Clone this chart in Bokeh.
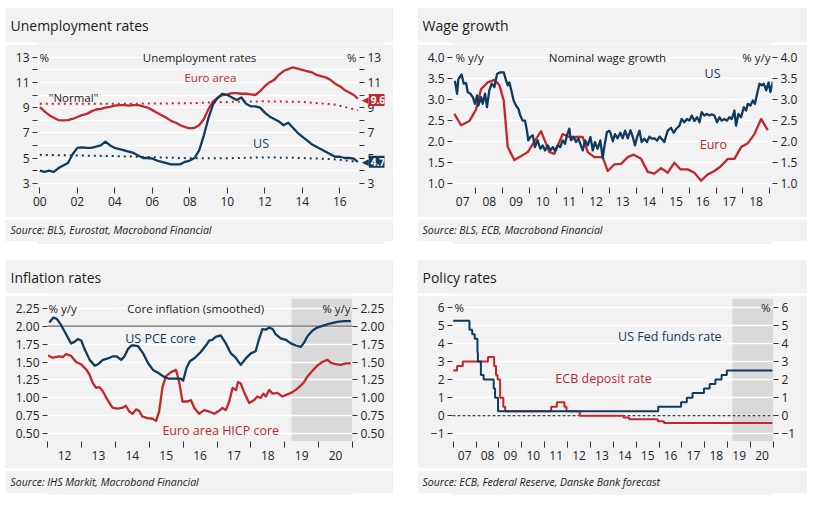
from bokeh.plotting import figure
from bokeh.models import (FixedTicker, LinearAxis, Label, BoxAnnotation, Span, Title,
                          Range1d, Spacer, NumeralTickFormatter)
from bokeh.layouts import column, row
from bokeh.embed import file_html
from bokeh.resources import INLINE

# ------------------------------------------------------------------ data
# Panel 1: unemployment rates (quarterly, % of labour force)
un_dates = [2000 + i / 4 for i in range(68)] + [2016.96]
us_unemp = [
    4.0, 3.9, 4.0, 3.9,
    4.2, 4.4, 4.6, 5.3,
    5.8, 5.85, 5.8, 5.8,
    5.9, 6.0, 6.3, 6.0,
    5.8, 5.7, 5.6, 5.5,
    5.4, 5.2, 5.0, 5.0,
    4.95, 4.8, 4.7, 4.6,
    4.5, 4.5, 4.5, 4.7,
    4.8, 5.0, 5.6, 6.8,
    8.2, 9.3, 9.8, 10.1,
    10.0, 9.8, 9.6, 9.8,
    9.3, 9.1, 9.1, 9.0,
    8.6, 8.3, 8.1, 7.9,
    7.6, 7.8, 7.4, 7.0,
    6.7, 6.4, 6.1, 5.9,
    5.7, 5.5, 5.3, 5.1,
    5.1, 5.0, 5.0, 4.95,
    4.7]
ea_unemp = [
    9.05, 8.7, 8.4, 8.2,
    8.0, 7.98, 8.0, 8.1,
    8.25, 8.4, 8.5, 8.7,
    8.85, 8.9, 9.0, 9.05,
    9.15, 9.2, 9.2, 9.15,
    9.2, 9.2, 9.1, 9.0,
    8.8, 8.6, 8.4, 8.2,
    7.95, 7.8, 7.6, 7.45,
    7.35, 7.4, 7.6, 8.1,
    8.9, 9.5, 9.8, 10.0,
    10.05, 10.15, 10.15, 10.1,
    10.1, 10.05, 10.0, 10.3,
    10.7, 11.0, 11.2, 11.6,
    11.9, 12.05, 12.2, 12.1,
    12.0, 11.9, 11.8, 11.6,
    11.5, 11.4, 11.2, 10.9,
    10.7, 10.4, 10.2, 10.0,
    9.7]
normal_dates = [2000, 2004, 2008, 2010, 2012, 2014, 2015.7, 2016.96]
ea_normal = [9.3, 9.3, 9.35, 9.45, 9.5, 9.45, 9.25, 8.8]
us_normal = [5.25, 5.15, 4.98, 4.98, 5.05, 5.0, 4.9, 4.7]
un_xticks = [2000, 2002, 2004, 2006, 2008, 2010, 2012, 2014, 2016]
un_xlabels = ["00", "02", "04", "06", "08", "10", "12", "14", "16"]
un_yticks = [3, 5, 7, 9, 11, 13]
un_yminor = [4, 6, 8, 10, 12]
ea_last_label = "9.6"
us_last_label = "4.7"

# Panel 2: nominal wage growth (% y/y)
us_wage_dates = [
    2007.21, 2007.29, 2007.34, 2007.46, 2007.54, 2007.63, 2007.69, 2007.79, 2007.88, 2007.96,
    2008.04, 2008.09, 2008.19, 2008.25, 2008.34, 2008.41, 2008.50, 2008.59, 2008.69, 2008.79,
    2008.91, 2009.04, 2009.13, 2009.19, 2009.25, 2009.34, 2009.41, 2009.50, 2009.59, 2009.66,
    2009.75, 2009.84, 2009.91, 2009.96, 2010.04, 2010.13, 2010.21, 2010.31, 2010.41, 2010.50,
    2010.59, 2010.69, 2010.79, 2010.88, 2010.96, 2011.06, 2011.16, 2011.25, 2011.34, 2011.41,
    2011.50, 2011.56, 2011.66, 2011.75, 2011.84, 2011.91, 2012.00, 2012.09, 2012.19, 2012.29,
    2012.38, 2012.46, 2012.56, 2012.66, 2012.75, 2012.81, 2012.91, 2013.00, 2013.04, 2013.13,
    2013.21, 2013.31, 2013.41, 2013.50, 2013.59, 2013.69, 2013.79, 2013.88, 2013.96, 2014.04,
    2014.13, 2014.21, 2014.31, 2014.41, 2014.50, 2014.59, 2014.69, 2014.79, 2014.88, 2015.00,
    2015.06, 2015.13, 2015.19, 2015.31, 2015.41, 2015.50, 2015.63, 2015.71, 2015.81, 2015.91,
    2016.00, 2016.09, 2016.19, 2016.29, 2016.38, 2016.46, 2016.56, 2016.66, 2016.75, 2016.84,
    2016.94, 2017.04, 2017.13, 2017.21, 2017.31, 2017.41, 2017.50, 2017.59, 2017.69, 2017.75,
    2017.84, 2017.94, 2018.04, 2018.13, 2018.19, 2018.29, 2018.38, 2018.46, 2018.54, 2018.63,
    2018.71, 2018.79, 2018.88, 2018.97, 2019.04, 2019.13]
us_wage = [
    3.44, 3.13, 3.48, 3.59, 3.37, 3.38, 3.17, 3.13, 3.05, 2.89,
    3.09, 2.85, 3.05, 2.89, 3.13, 2.81, 3.21, 3.37, 3.29, 3.60,
    3.64, 3.64, 3.44, 3.33, 3.40, 3.17, 2.97, 2.85, 2.77, 2.61,
    2.49, 2.49, 2.25, 2.02, 2.10, 2.14, 1.86, 2.02, 1.82, 1.90,
    1.78, 1.90, 1.78, 1.86, 1.77, 1.90, 1.86, 2.02, 1.94, 2.14,
    2.30, 2.02, 2.10, 1.98, 2.06, 1.94, 1.78, 2.02, 1.90, 2.10,
    1.78, 1.98, 1.82, 2.02, 1.60, 1.86, 2.22, 2.25, 2.20, 2.00,
    2.17, 2.07, 2.20, 2.07, 2.25, 2.07, 2.26, 2.10, 1.90, 2.10,
    2.25, 1.98, 2.06, 1.98, 2.11, 2.06, 2.07, 2.01, 2.11, 2.03,
    1.98, 2.13, 2.25, 2.32, 2.20, 2.29, 2.37, 2.53, 2.45, 2.53,
    2.49, 2.61, 2.48, 2.57, 2.45, 2.69, 2.61, 2.65, 2.61, 2.64,
    2.61, 2.45, 2.57, 2.49, 2.53, 2.49, 2.57, 2.53, 2.73, 2.37,
    2.65, 2.57, 2.81, 2.73, 2.89, 2.85, 2.97, 2.89, 3.13, 3.37,
    3.33, 3.37, 3.21, 3.40, 3.17, 3.42]
ea_wage_dates = [
    2007.19, 2007.44, 2007.75, 2008.00, 2008.19, 2008.44, 2008.69, 2008.88, 2009.04, 2009.19,
    2009.44, 2009.94, 2010.44, 2010.75, 2010.94, 2011.25, 2011.50, 2012.00, 2012.19, 2012.44,
    2012.75, 2012.94, 2013.19, 2013.44, 2013.69, 2013.91, 2014.19, 2014.44, 2014.69, 2014.94,
    2015.19, 2015.44, 2015.66, 2015.94, 2016.19, 2016.44, 2016.69, 2016.94, 2017.19, 2017.44,
    2017.69, 2017.94, 2018.19, 2018.44, 2018.69, 2018.94]
ea_wage = [
    2.65, 2.38, 2.48, 2.75, 3.24, 3.40, 3.46, 3.33, 2.97, 1.86,
    1.55, 1.74, 2.24, 1.74, 1.70, 2.17, 2.10, 2.10, 1.74, 1.62,
    1.62, 1.29, 1.45, 1.46, 1.62, 1.68, 1.58, 1.27, 1.23, 1.36,
    1.25, 1.49, 1.33, 1.33, 1.25, 1.06, 1.21, 1.29, 1.41, 1.58,
    1.58, 1.86, 1.95, 2.17, 2.53, 2.26]
wage_year_ticks = [2008, 2009, 2010, 2011, 2012, 2013, 2014, 2015, 2016, 2017, 2018, 2019]
wage_label_pos = [2007.5, 2008.5, 2009.5, 2010.5, 2011.5, 2012.5, 2013.5, 2014.5, 2015.5,
                  2016.5, 2017.5, 2018.5]
wage_xlabels = ["07", "08", "09", "10", "11", "12", "13", "14", "15", "16", "17", "18"]
wage_yticks = [1.0, 1.5, 2.0, 2.5, 3.0, 3.5, 4.0]

# Panel 3: core inflation, smoothed (% y/y)
us_core_dates = [
    2012.05, 2012.17, 2012.27, 2012.39, 2012.54, 2012.69, 2012.79, 2012.89, 2012.99, 2013.09,
    2013.24, 2013.39, 2013.49, 2013.63, 2013.78, 2013.93, 2014.03, 2014.17, 2014.27, 2014.37,
    2014.47, 2014.57, 2014.67, 2014.82, 2014.97, 2015.11, 2015.26, 2015.41, 2015.56, 2015.76,
    2015.93, 2016.00, 2016.10, 2016.20, 2016.35, 2016.52, 2016.67, 2016.77, 2016.86, 2016.96,
    2017.11, 2017.26, 2017.41, 2017.55, 2017.70, 2017.85, 2018.00, 2018.14, 2018.24, 2018.34,
    2018.44, 2018.54, 2018.64, 2018.73, 2018.88, 2019.03, 2019.18, 2019.33, 2019.47, 2019.57,
    2019.67, 2019.82, 2019.96, 2020.16, 2020.36, 2020.55, 2020.75, 2020.95]
us_core = [
    2.05, 2.12, 2.10, 2.02, 1.89, 1.76, 1.78, 1.82, 1.80, 1.68,
    1.53, 1.45, 1.47, 1.53, 1.55, 1.58, 1.58, 1.53, 1.58, 1.68,
    1.73, 1.73, 1.72, 1.62, 1.48, 1.39, 1.35, 1.30, 1.27, 1.27,
    1.27, 1.24, 1.42, 1.51, 1.56, 1.64, 1.73, 1.80, 1.81, 1.85,
    1.87, 1.76, 1.62, 1.56, 1.46, 1.55, 1.62, 1.65, 1.82, 1.96,
    1.95, 1.98, 1.96, 1.89, 1.83, 1.81, 1.76, 1.73, 1.71, 1.77,
    1.86, 1.94, 1.98, 2.01, 2.04, 2.06, 2.07, 2.07]
ea_core_dates = [
    2012.01, 2012.15, 2012.35, 2012.45, 2012.54, 2012.68, 2012.84, 2012.98, 2013.13, 2013.23,
    2013.33, 2013.43, 2013.52, 2013.62, 2013.77, 2013.92, 2014.06, 2014.20, 2014.31, 2014.41,
    2014.51, 2014.61, 2014.70, 2014.80, 2014.95, 2015.10, 2015.20, 2015.29, 2015.39, 2015.49,
    2015.64, 2015.79, 2015.88, 2015.98, 2016.13, 2016.23, 2016.33, 2016.47, 2016.62, 2016.77,
    2016.92, 2017.06, 2017.16, 2017.26, 2017.36, 2017.46, 2017.56, 2017.62, 2017.70, 2017.80,
    2017.95, 2018.10, 2018.19, 2018.29, 2018.37, 2018.44, 2018.54, 2018.64, 2018.78, 2018.93,
    2019.08, 2019.23, 2019.37, 2019.47, 2019.57, 2019.67, 2019.82, 2019.96, 2020.11, 2020.26,
    2020.36, 2020.50, 2020.65, 2020.80, 2020.95]
ea_core = [
    1.59, 1.56, 1.58, 1.57, 1.61, 1.59, 1.50, 1.47, 1.40, 1.33,
    1.21, 1.14, 1.15, 1.10, 0.97, 0.86, 0.85, 0.86, 0.89, 0.81,
    0.78, 0.84, 0.82, 0.74, 0.72, 0.71, 0.68, 0.81, 1.15, 1.30,
    1.36, 1.39, 1.23, 0.95, 0.95, 0.97, 0.86, 0.78, 0.83, 0.81,
    0.78, 0.82, 0.86, 0.83, 0.95, 1.14, 1.11, 1.22, 1.20, 1.08,
    0.93, 0.97, 1.02, 1.00, 1.06, 1.02, 1.11, 1.06, 1.07, 1.02,
    1.05, 1.08, 1.13, 1.17, 1.22, 1.30, 1.38, 1.45, 1.50, 1.53,
    1.49, 1.47, 1.46, 1.48, 1.48]
infl_year_ticks = [2012, 2013, 2014, 2015, 2016, 2017, 2018, 2019, 2020, 2021]
infl_label_pos = [2012.5, 2013.5, 2014.5, 2015.5, 2016.5, 2017.5, 2018.5, 2019.5, 2020.5]
infl_xlabels = ["12", "13", "14", "15", "16", "17", "18", "19", "20"]
infl_yticks = [0.5, 0.75, 1.0, 1.25, 1.5, 1.75, 2.0, 2.25]
infl_target = 2.0
forecast_start = 2019.2

# Panel 4: policy rates (%)
fed_dates = [2007.0, 2007.71, 2007.83, 2007.94, 2008.06, 2008.08, 2008.21, 2008.33, 2008.77,
             2008.83, 2008.96, 2015.96, 2016.96, 2017.21, 2017.46, 2017.96, 2018.21, 2018.46,
             2018.73, 2018.96, 2020.95]
fed_rate = [5.25, 4.75, 4.5, 4.25, 3.5, 3.0, 2.25, 2.0, 1.5, 1.0, 0.25, 0.5, 0.75, 1.0, 1.25,
            1.5, 1.75, 2.0, 2.25, 2.5, 2.5]
ecb_dates = [2007.0, 2007.17, 2007.42, 2008.52, 2008.79, 2008.87, 2008.94, 2009.05, 2009.19,
             2009.27, 2011.28, 2011.53, 2011.86, 2011.95, 2012.53, 2014.44, 2014.69, 2015.94,
             2016.21, 2020.95]
ecb_rate = [2.5, 2.75, 3.0, 3.25, 2.75, 2.25, 2.0, 1.0, 0.5, 0.25, 0.5, 0.75, 0.5, 0.25, 0.0,
            -0.1, -0.2, -0.3, -0.4, -0.4]
pol_year_ticks = list(range(2007, 2022))
pol_label_pos = [y + 0.5 for y in range(2007, 2021)]
pol_xlabels = ["07", "08", "09", "10", "11", "12", "13", "14", "15", "16", "17", "18", "19", "20"]
pol_yticks = [-1, 0, 1, 2, 3, 4, 5, 6]
pol_ylabels = ["\u22121", "0", "1", "2", "3", "4", "5", "6"]

# ------------------------------------------------------------------ style
FONT = "Open Sans"
RED = "#c1272d"
BLUE = "#0f3b5f"
BG = "#f2f2f2"
TXT = "#1a1a1a"
TICK = "#333333"
SHADE = "#d9d9d9"
LINE_LIGHT = "#a6a6a6"
LINE_MID = "#979797"
LINE_DARK = "#6e6e6e"


def chart_fig(meta, xr, yr):
    X0, Y0, W, H = meta["box"]
    FL, FR, FT, FB = meta["frame"]
    p = figure(width=W, height=H, x_range=Range1d(*xr), y_range=Range1d(*yr),
               output_backend="svg", toolbar_location=None, tools="", title=None,
               min_border_left=FL - X0, min_border_right=X0 + W - FR,
               min_border_top=FT - Y0, min_border_bottom=Y0 + H - FB,
               background_fill_color=BG, border_fill_color=BG, outline_line_color=None)
    p.xgrid.visible = False
    p.ygrid.grid_line_color = "white"
    p.ygrid.grid_line_width = 1.3
    return p


def rule_fig(W, h, color):
    """A full-width horizontal rule of the panel frame."""
    return figure(width=W, height=h, x_axis_type=None, y_axis_type=None, min_border=0,
                  output_backend="svg", toolbar_location=None, tools="", title=None,
                  background_fill_color=color, border_fill_color=color,
                  outline_line_color=None)


def text_fig(meta, h, text, size, style, standoff):
    """A strip holding one left-aligned line of text (panel title or source)."""
    X0, Y0, W, H = meta["box"]
    FL, FR, FT, FB = meta["frame"]
    p = figure(width=W, height=h, x_axis_type=None, y_axis_type=None,
               min_border_left=FL - X0, min_border_right=X0 + W - FR,
               min_border_top=h - 1, min_border_bottom=0,
               output_backend="svg", toolbar_location=None, tools="", title=None,
               background_fill_color=BG, border_fill_color=BG, outline_line_color=None)
    p.add_layout(Title(text=text, align="left", offset=X0 + 5 - FL, vertical_align="bottom",
                       standoff=standoff, text_font=FONT, text_font_size=size,
                       text_font_style=style, text_color=TXT), "above")
    return p


def style_axis(ax, tick_out, standoff, major_vis=True, minor_vis=False):
    ax.axis_line_color = None
    ax.major_tick_in = 0
    ax.major_tick_out = tick_out
    ax.minor_tick_in = 0
    ax.minor_tick_out = tick_out
    ax.major_tick_line_color = TICK if major_vis else None
    ax.minor_tick_line_color = TICK if minor_vis else None
    ax.major_tick_line_width = 1
    ax.minor_tick_line_width = 1
    ax.major_label_text_font = FONT
    ax.major_label_text_font_size = "12px"
    ax.major_label_text_color = "#222222"
    ax.major_label_standoff = standoff


def setup_y(p, ticks, minor, formatter=None, overrides=None, right_shift=0):
    t = FixedTicker(ticks=ticks, minor_ticks=minor)
    p.yaxis[0].ticker = t
    p.ygrid[0].ticker = t
    right = LinearAxis(ticker=t)
    p.add_layout(right, "right")
    for ax in (p.yaxis[0], right):
        style_axis(ax, 5, 3, True, bool(minor))
        if formatter is not None:
            ax.formatter = formatter
        if overrides is not None:
            ax.major_label_overrides = overrides
    if right_shift:
        # right axis drawn a little inside an extended frame (room for value tags)
        right.major_tick_in = right_shift
        right.major_tick_out = 5 - right_shift
        right.minor_tick_in = right_shift
        right.minor_tick_out = 5 - right_shift
    if minor:
        p.ygrid[0].minor_grid_line_color = "white"
        p.ygrid[0].minor_grid_line_width = 1.3
    return right


def setup_x(p, major, labels, minor, major_vis):
    ax = p.xaxis[0]
    ax.ticker = FixedTicker(ticks=major, minor_ticks=minor)
    ax.major_label_overrides = dict(zip(major, labels))
    style_axis(ax, 6, 3, major_vis, not major_vis)


def dlabel(p, x, y, text, color, size="11.5px", align="center", x_offset=0):
    p.add_layout(Label(x=x, y=y, text=text, text_color=color, text_font=FONT,
                       text_font_size=size, text_align=align, text_baseline="middle",
                       x_offset=x_offset))


def shade(p, start):
    box = BoxAnnotation(left=start, fill_color=SHADE, fill_alpha=1, line_color=None,
                        level="underlay")
    p.center = [box] + list(p.center)


def panel(meta, top_row, title, source, chart):
    W = meta["box"][2]
    if top_row:
        parts = [rule_fig(W, 1, LINE_LIGHT),
                 text_fig(meta, 35, title, "14px", "normal", 16),
                 rule_fig(W, 2, LINE_MID),
                 chart,
                 rule_fig(W, 2, LINE_MID),
                 text_fig(meta, 22, source, "10.5px", "italic", 9),
                 rule_fig(W, 2, LINE_DARK)]
    else:
        parts = [rule_fig(W, 1, LINE_LIGHT),
                 text_fig(meta, 34, title, "14px", "normal", 14),
                 rule_fig(W, 2, LINE_MID),
                 chart,
                 rule_fig(W, 2, LINE_MID),
                 text_fig(meta, 23, source, "10.5px", "italic", 9),
                 rule_fig(W, 2, LINE_MID)]
    return column(*parts)


# chart areas (absolute page coordinates of box and frame)
M1 = dict(box=(5, 44, 388, 173), frame=(37, 384, 48, 187))
M2 = dict(box=(417, 44, 390, 173), frame=(452, 772, 48, 187))
M3 = dict(box=(5, 295, 388, 173), frame=(47, 352, 298, 441))
M4 = dict(box=(417, 295, 390, 173), frame=(452, 773, 298, 441))

# ------------------------------------------------------------------ panel 1
un_end = 2016.997
x1 = (1999.877, 2018.384)
p1 = chart_fig(M1, x1, (2.66, 13.69))
setup_y(p1, un_yticks, un_yminor, right_shift=25)
try:
    p1.ygrid[0].cross_bounds = (x1[0], un_end)
except Exception:
    pass
setup_x(p1, un_xticks, un_xlabels, [], True)
p1.line(normal_dates, ea_normal, line_color=RED, line_width=2, line_dash="2 4", line_cap="butt")
p1.line(normal_dates, us_normal, line_color=BLUE, line_width=2, line_dash="2 4", line_cap="butt")
p1.line(un_dates, ea_unemp, line_color=RED, line_width=2.3, line_join="round")
p1.line(un_dates, us_unemp, line_color=BLUE, line_width=2.3, line_join="round")
dlabel(p1, 2008.52, 12.98, "Unemployment rates", TXT)
dlabel(p1, 2009.1, 11.39, "Euro area", RED)
dlabel(p1, 2001.8, 9.8, "\"Normal\"", TXT)
dlabel(p1, 2011.8, 6.15, "US", BLUE, size="12.5px")
dlabel(p1, x1[0], 12.98, "%", TXT, align="left", x_offset=2)
dlabel(p1, un_end, 12.98, "%", TXT, align="right", x_offset=-2)
for val, txt, col in ((9.6, ea_last_label, RED), (4.7, us_last_label, BLUE)):
    p1.add_layout(Label(x=un_dates[-1], y=val, x_offset=4, text="\u25c0", text_color=col,
                        text_font="DejaVu Sans", text_font_size="9px",
                        text_align="left", text_baseline="middle"))
    p1.add_layout(Label(x=un_dates[-1], y=val, x_offset=11, text=txt, text_color="white",
                        background_fill_color=col, text_font=FONT, text_font_size="10px",
                        text_font_style="bold", text_align="left", text_baseline="middle",
                        padding=2))
col1 = panel(M1, True, "Unemployment rates", "Source: BLS, Eurostat, Macrobond Financial", p1)

# ------------------------------------------------------------------ panel 2
x2 = (2007.119, 2019.117)
p2 = chart_fig(M2, x2, (0.898, 4.207))
setup_y(p2, wage_yticks, [], formatter=NumeralTickFormatter(format="0.0"))
setup_x(p2, wage_label_pos, wage_xlabels, wage_year_ticks, False)
p2.line(ea_wage_dates, ea_wage, line_color=RED, line_width=2.3, line_join="round")
p2.line(us_wage_dates, us_wage, line_color=BLUE, line_width=2.3, line_join="round")
dlabel(p2, 2012.93, 3.99, "Nominal wage growth", TXT)
dlabel(p2, 2016.87, 3.61, "US", BLUE, size="12.5px")
dlabel(p2, 2016.9, 1.92, "Euro", RED, size="12.5px")
dlabel(p2, x2[0], 3.99, "% y/y", TXT, align="left", x_offset=3)
dlabel(p2, x2[1], 3.99, "% y/y", TXT, align="right", x_offset=-2)
col2 = panel(M2, True, "Wage growth", "Source: BLS, ECB, Macrobond Financial", p2)

# ------------------------------------------------------------------ panel 3
x3 = (2011.995, 2021.0)
p3 = chart_fig(M3, x3, (0.393, 2.385))
shade(p3, forecast_start)
setup_y(p3, infl_yticks, [], formatter=NumeralTickFormatter(format="0.00"))
setup_x(p3, infl_label_pos, infl_xlabels, infl_year_ticks, False)
p3.add_layout(Span(location=infl_target, dimension="width", line_color="#666666",
                   line_width=1.3, level="underlay"))
p3.line(ea_core_dates, ea_core, line_color=RED, line_width=2.3, line_join="round")
p3.line(us_core_dates, us_core, line_color=BLUE, line_width=2.3, line_join="round")
dlabel(p3, 2016.37, 2.25, "Core inflation (smoothed)", TXT)
dlabel(p3, 2015.33, 1.83, "US PCE core", BLUE, size="12.5px")
dlabel(p3, 2017.11, 0.547, "Euro area HICP core", RED, size="12.5px")
dlabel(p3, x3[0], 2.25, "% y/y", TXT, align="left", x_offset=1)
dlabel(p3, x3[1], 2.25, "% y/y", TXT, align="right", x_offset=-2)
col3 = panel(M3, False, "Inflation rates", "Source: IHS Markit, Macrobond Financial", p3)

# ------------------------------------------------------------------ panel 4
x4 = (2006.969, 2021.0)
p4 = chart_fig(M4, x4, (-1.424, 6.479))
shade(p4, forecast_start)
setup_y(p4, pol_yticks, [], overrides=dict(zip(pol_yticks, pol_ylabels)))
setup_x(p4, pol_label_pos, pol_xlabels, pol_year_ticks, False)
p4.add_layout(Span(location=0, dimension="width", line_color="#111111", line_width=1,
                   line_dash="3 2", level="underlay"))
p4.step(ecb_dates, ecb_rate, mode="after", line_color=RED, line_width=2)
p4.step(fed_dates, fed_rate, mode="after", line_color=BLUE, line_width=2)
dlabel(p4, 2016.47, 4.38, "US Fed funds rate", BLUE, size="12.5px")
dlabel(p4, 2013.57, 2.06, "ECB deposit rate", RED, size="12.5px")
dlabel(p4, x4[0], 6.0, "%", TXT, align="left", x_offset=2)
dlabel(p4, x4[1], 6.0, "%", TXT, align="right", x_offset=-3)
col4 = panel(M4, False, "Policy rates", "Source: ECB, Federal Reserve, Danske Bank forecast", p4)

# ------------------------------------------------------------------ layout
layout = column(
    Spacer(height=6),
    row(Spacer(width=5), col1, Spacer(width=24), col2),
    Spacer(height=15),
    row(Spacer(width=5), col3, Spacer(width=24), col4),
)

open("out.html", "w").write(file_html(layout, INLINE))
